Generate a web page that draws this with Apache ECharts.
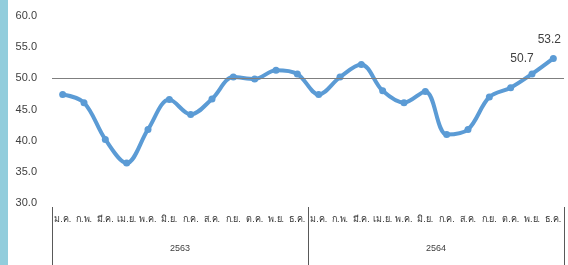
<!DOCTYPE html>
<html>
<head>
<meta charset="utf-8">
<script src="https://cdn.jsdelivr.net/npm/echarts@6/dist/echarts.min.js"></script>
<style>
html, body { margin: 0; padding: 0; background: #fff; }
#wrap { position: relative; width: 568px; height: 265px; }
#strip { position: absolute; left: 0; top: 0; width: 8px; height: 265px; background: #92cddc; }
#chart { position: absolute; left: 0; top: 0; width: 568px; height: 265px; }
</style>
</head>
<body>
<div id="wrap">
    <div id="strip"></div>
    <div id="chart"></div>
</div>
<script>
var months = ['ม.ค.', 'ก.พ.', 'มี.ค.', 'เม.ย.', 'พ.ค.', 'มิ.ย.', 'ก.ค.', 'ส.ค.', 'ก.ย.', 'ต.ค.', 'พ.ย.', 'ธ.ค.',
              'ม.ค.', 'ก.พ.', 'มี.ค.', 'เม.ย.', 'พ.ค.', 'มิ.ย.', 'ก.ค.', 'ส.ค.', 'ก.ย.', 'ต.ค.', 'พ.ย.', 'ธ.ค.'];
var years = ['2563', '2564'];
var values = [47.4, 46.1, 40.2, 36.4, 41.8, 46.6, 44.2, 46.7, 50.2, 49.9, 51.3, 50.7,
              47.4, 50.2, 52.2, 48.0, 46.1, 47.9, 41.0, 41.8, 47.0, 48.5, 50.7, 53.2];
var labelled = [22, 23];   // points that carry a value label
var refLine = 50;

var textColor = '#404040';
var seriesData = values.map(function (v, i) {
    if (labelled.indexOf(i) < 0) return v;
    return {
        value: v,
        label: {
            show: true,
            position: 'top',
            offset: i === 22 ? [-10, -1] : [-4, -4],
            formatter: function (p) { return p.value.toFixed(1); }
        }
    };
});

var chart = echarts.init(document.getElementById('chart'));
chart.setOption({
    animation: false,
    grid: { left: 52, right: 4, top: 16, bottom: 62 },
    xAxis: [
        {
            type: 'category',
            data: months,
            boundaryGap: true,
            axisLine: { show: false },
            axisTick: { show: false },
            axisLabel: { interval: 0, margin: 12, fontSize: 9, color: '#333' }
        },
        {
            type: 'category',
            data: years,
            position: 'bottom',
            offset: 4,
            boundaryGap: true,
            axisLine: { show: false },
            axisTick: { show: true, interval: 0, length: 60, lineStyle: { color: '#595959', width: 1 } },
            axisLabel: { interval: 0, margin: 37, fontSize: 9, color: textColor }
        }
    ],
    yAxis: {
        type: 'value',
        min: 30,
        max: 60,
        interval: 5,
        axisLine: { show: false },
        axisTick: { show: false },
        splitLine: { show: false },
        axisLabel: {
            margin: 15,
            fontSize: 11,
            color: textColor,
            formatter: function (v) { return v.toFixed(1); }
        }
    },
    series: [{
        type: 'line',
        data: seriesData,
        smooth: 0.35,
        symbol: 'circle',
        symbolSize: 7,
        lineStyle: { color: '#5b9bd5', width: 4 },
        itemStyle: { color: '#5b9bd5' },
        label: { color: textColor, fontSize: 12 },
        markLine: {
            silent: true,
            symbol: 'none',
            label: { show: false },
            lineStyle: { color: '#7f7f7f', width: 1, type: 'solid' },
            data: [{ yAxis: refLine }]
        }
    }]
});
</script>
</body>
</html>
